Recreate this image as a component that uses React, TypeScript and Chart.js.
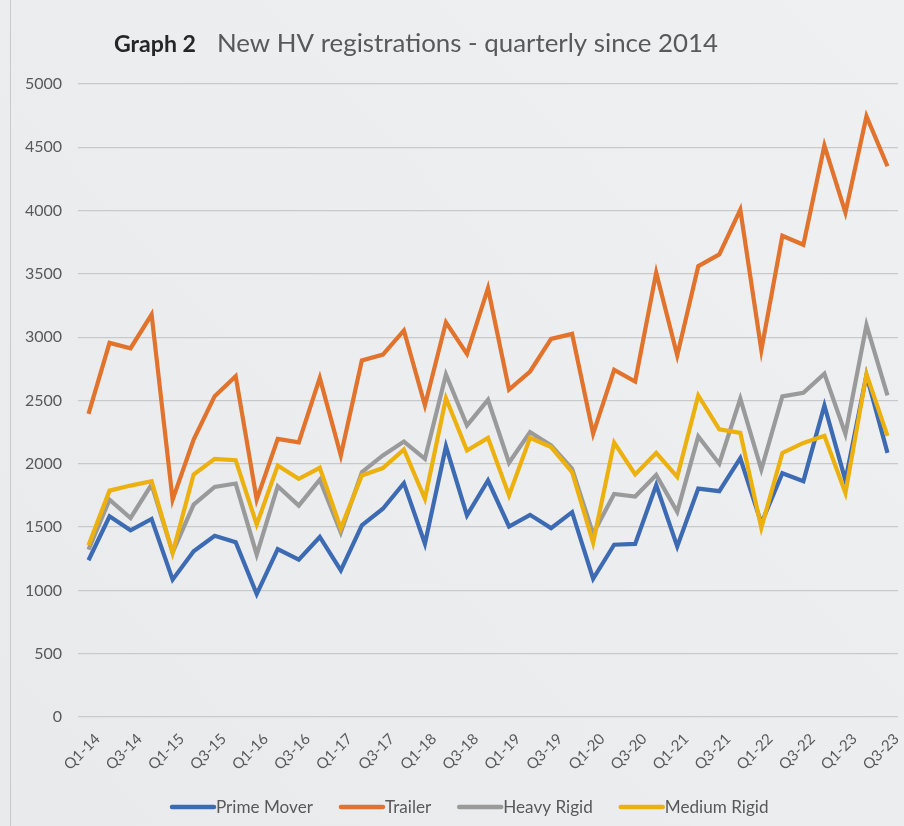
import React, { useEffect, useRef } from "react";
import { Chart, registerables } from "chart.js";

Chart.register(...registerables);

const quarters = [
  "Q1-14", "Q2-14", "Q3-14", "Q4-14",
  "Q1-15", "Q2-15", "Q3-15", "Q4-15",
  "Q1-16", "Q2-16", "Q3-16", "Q4-16",
  "Q1-17", "Q2-17", "Q3-17", "Q4-17",
  "Q1-18", "Q2-18", "Q3-18", "Q4-18",
  "Q1-19", "Q2-19", "Q3-19", "Q4-19",
  "Q1-20", "Q2-20", "Q3-20", "Q4-20",
  "Q1-21", "Q2-21", "Q3-21", "Q4-21",
  "Q1-22", "Q2-22", "Q3-22", "Q4-22",
  "Q1-23", "Q2-23", "Q3-23",
];

const primeMover = [
  1238, 1585, 1475, 1564, 1085, 1309, 1432, 1380, 971, 1327, 1243, 1422,
  1158, 1513, 1645, 1847, 1368, 2137, 1592, 1868, 1505, 1597, 1492, 1618,
  1092, 1361, 1367, 1832, 1347, 1804, 1784, 2044, 1530, 1925, 1863, 2461,
  1869, 2700, 2086,
];

const trailer = [
  2395, 2955, 2913, 3179, 1717, 2192, 2534, 2692, 1717, 2197, 2170, 2679,
  2066, 2816, 2863, 3053, 2461, 3118, 2868, 3387, 2587, 2729, 2987, 3026,
  2237, 2742, 2650, 3510, 2856, 3561, 3654, 4007, 2898, 3801, 3730, 4514,
  3984, 4745, 4350,
];

const heavyRigid = [
  1322, 1717, 1572, 1836, 1300, 1678, 1817, 1844, 1282, 1823, 1670, 1875,
  1458, 1934, 2066, 2176, 2039, 2705, 2303, 2505, 2008, 2250, 2145, 1961,
  1447, 1762, 1742, 1911, 1621, 2216, 2001, 2515, 1954, 2532, 2560, 2712,
  2235, 3096, 2540,
];

const mediumRigid = [
  1356, 1788, 1828, 1862, 1295, 1915, 2039, 2028, 1520, 1986, 1881, 1968,
  1490, 1908, 1966, 2113, 1724, 2518, 2105, 2205, 1750, 2205, 2132, 1934,
  1376, 2168, 1916, 2086, 1897, 2540, 2272, 2244, 1494, 2086, 2165, 2221,
  1770, 2709, 2221,
];

const seriesNames = ["Prime Mover", "Trailer", "Heavy Rigid", "Medium Rigid"];
const seriesColors = ["#3d6bb3", "#e2732c", "#9a9a9a", "#edb10f"];
const seriesValues = [primeMover, trailer, heavyRigid, mediumRigid];

const titleBold = "Graph 2";
const titleText = "New HV registrations - quarterly since 2014";

const FONT = "Lato, 'Open Sans', sans-serif";

function fitSize(ctx: CanvasRenderingContext2D, text: string, weight: string, target: number) {
  ctx.font = `${weight} 20px ${FONT}`;
  const w = ctx.measureText(text).width;
  return (20 * target) / w;
}

const decorPlugin = {
  id: "decor",
  beforeDraw(chart: any) {
    const ctx = chart.ctx as CanvasRenderingContext2D;
    ctx.save();
    const g = ctx.createLinearGradient(0, chart.height, chart.width, 0);
    g.addColorStop(0, "#e9eaec");
    g.addColorStop(1, "#eff0f2");
    ctx.fillStyle = g;
    ctx.fillRect(0, 0, chart.width, chart.height);
    ctx.strokeStyle = "#c9cacc";
    ctx.lineWidth = 1;
    ctx.beginPath();
    ctx.moveTo(10.5, 0);
    ctx.lineTo(10.5, chart.height);
    ctx.stroke();
    ctx.restore();
  },
  afterDraw(chart: any) {
    const ctx = chart.ctx as CanvasRenderingContext2D;
    ctx.save();
    ctx.textBaseline = "middle";
    ctx.textAlign = "left";
    // title
    const s1 = fitSize(ctx, titleBold, "bold", 82);
    ctx.font = `bold ${s1}px ${FONT}`;
    ctx.fillStyle = "#262626";
    ctx.fillText(titleBold, 114, 45);
    const s2 = fitSize(ctx, titleText, "normal", 501);
    ctx.font = `normal ${s2}px ${FONT}`;
    ctx.fillStyle = "#595959";
    ctx.fillText(titleText, 217, 44);
    // legend
    const ls = fitSize(ctx, seriesNames[0], "normal", 97);
    ctx.font = `normal ${ls}px ${FONT}`;
    let x = 172;
    const y = 807;
    seriesNames.forEach((name, i) => {
      ctx.strokeStyle = seriesColors[i];
      ctx.lineWidth = 4.5;
      ctx.lineCap = "round";
      ctx.beginPath();
      ctx.moveTo(x, y);
      ctx.lineTo(x + 42, y);
      ctx.stroke();
      ctx.fillStyle = "#595959";
      ctx.fillText(name, x + 44, y);
      x += 44 + ctx.measureText(name).width + 28;
    });
    ctx.restore();
  },
};

export default function App() {
  const ref = useRef<HTMLCanvasElement | null>(null);

  useEffect(() => {
    document.body.style.margin = "0";
    if (!ref.current) return;
    const order = [3, 2, 1, 0];
    const chart = new Chart(ref.current, {
      type: "line",
      data: {
        labels: quarters,
        datasets: seriesNames.map((name, i) => ({
          label: name,
          data: seriesValues[i],
          borderColor: seriesColors[i],
          backgroundColor: seriesColors[i],
          borderWidth: 4.2,
          pointRadius: 0,
          tension: 0,
          borderJoinStyle: "miter" as const,
          order: order[i],
        })),
      },
      options: {
        responsive: false,
        animation: false,
        layout: { padding: { top: 84, right: 6, left: 0, bottom: 0 } },
        plugins: {
          legend: { display: false },
          tooltip: { enabled: false },
          title: { display: false },
        },
        scales: {
          x: {
            type: "category",
            offset: true,
            grid: { display: false, drawTicks: false },
            border: { display: false },
            afterFit(scale: any) {
              scale.height = 109;
              scale.paddingLeft = 0;
              scale.paddingRight = 0;
            },
            ticks: {
              autoSkip: false,
              maxRotation: 45,
              minRotation: 45,
              padding: 13,
              labelOffset: 9,
              color: "#595959",
              font: { family: FONT, size: 15 },
              callback: (_v: any, i: number) => (i % 2 === 0 ? quarters[i] : ""),
            },
          },
          y: {
            min: 0,
            max: 5000,
            afterFit(scale: any) {
              scale.width = 78;
            },
            border: { display: false },
            grid: { color: "#c8c9cb", lineWidth: 1.2, drawTicks: false },
            ticks: {
              stepSize: 500,
              padding: 16,
              color: "#595959",
              font: { family: FONT, size: 16 },
              callback: (v: any) => String(v),
            },
          },
        },
      },
      plugins: [decorPlugin],
    });
    return () => chart.destroy();
  }, []);

  return <canvas ref={ref} width={904} height={826} style={{ display: "block" }} />;
}
